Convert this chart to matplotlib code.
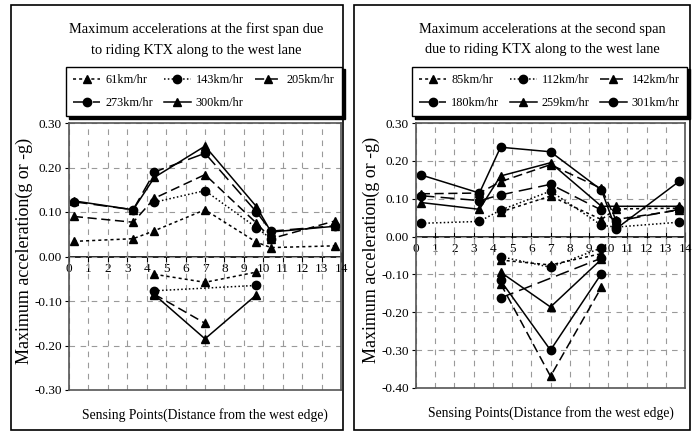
import numpy as np
import matplotlib
matplotlib.use('Agg')
import matplotlib.pyplot as plt
from matplotlib.patches import Rectangle

plt.rcParams['font.family'] = ['Liberation Serif', 'DejaVu Serif']

nan = np.nan

# sensing points (distance from the west edge)
x_pos = [0.25, 3.3, 4.4, 7.0, 9.65, 10.4, 13.7]
x_neg = [4.4, 7.0, 9.65]
x_neg_ends = [4.4, 9.65]
x_neg_first = [4.4, 7.0]

# first span - positive peaks
s1_61 = [0.034, 0.040, 0.058, 0.105, 0.032, 0.020, 0.024]
s1_143 = [nan, nan, 0.122, 0.148, 0.065, 0.040, nan]
s1_205 = [0.090, 0.077, 0.131, 0.184, 0.075, 0.040, 0.080]
s1_273 = [0.123, 0.105, 0.190, 0.232, 0.100, 0.057, 0.069]
s1_300 = [0.125, 0.105, 0.178, 0.248, 0.112, 0.055, 0.068]

# first span - negative peaks
s1_61_neg = [-0.040, -0.058, -0.035]
s1_143_neg = [-0.077, -0.065]
s1_205_neg = [-0.085, -0.150]
s1_300_neg = [-0.086, -0.185, -0.086]

# second span - positive peaks
s2_85 = [nan, nan, 0.065, 0.107, 0.045, 0.073, 0.075]
s2_112 = [0.035, 0.040, 0.070, 0.120, 0.030, 0.025, 0.038]
s2_142 = [0.113, 0.115, 0.145, 0.190, 0.127, 0.045, 0.070]
s2_180 = [0.108, 0.095, 0.110, 0.138, 0.070, 0.040, 0.072]
s2_259 = [0.090, 0.072, 0.160, 0.195, 0.080, 0.080, 0.080]
s2_301 = [0.163, 0.115, 0.236, 0.224, 0.123, 0.020, 0.146]

# second span - negative peaks
s2_85_neg = [-0.062, -0.075, -0.045]
s2_112_neg = [-0.053, -0.081, -0.030]
s2_142_neg = [-0.124, -0.369, -0.134]
s2_180_neg = [-0.162, -0.057]
s2_259_neg = [-0.094, -0.186, -0.060]
s2_301_neg = [-0.116, -0.300, -0.098]

DOT = (0, (2, 2))
FINE = (0, (1, 1.5))
DASH = (0, (6, 3))
LDASH = (0, (9, 4))

span1 = [
    ('61km/hr', s1_61, x_neg, s1_61_neg, DOT, '^'),
    ('143km/hr', s1_143, x_neg_ends, s1_143_neg, FINE, 'o'),
    ('205km/hr', s1_205, x_neg_first, s1_205_neg, DASH, '^'),
    ('273km/hr', s1_273, None, None, LDASH, 'o'),
    ('300km/hr', s1_300, x_neg, s1_300_neg, '-', '^'),
]
span2 = [
    ('85km/hr', s2_85, x_neg, s2_85_neg, DOT, '^'),
    ('112km/hr', s2_112, x_neg, s2_112_neg, FINE, 'o'),
    ('142km/hr', s2_142, x_neg, s2_142_neg, DASH, '^'),
    ('180km/hr', s2_180, x_neg_ends, s2_180_neg, LDASH, 'o'),
    ('259km/hr', s2_259, x_neg, s2_259_neg, '-', '^'),
    ('301km/hr', s2_301, x_neg, s2_301_neg, '-', 'o'),
]

W, H = 694, 432
fig = plt.figure(figsize=(W / 100, H / 100), dpi=100)


def px(x0, y0, x1, y1):
    # pixel box (top-left origin) -> figure fraction rect
    return [x0 / W, 1 - y1 / H, (x1 - x0) / W, (y1 - y0) / H]


def row_order(items, ncol=3):
    # legend fills column by column; reorder so entries read across rows
    rows = [items[i:i + ncol] for i in range(0, len(items), ncol)]
    out = []
    for c in range(ncol):
        for r in rows:
            if c < len(r):
                out.append(r[c])
    return out


def draw_panel(frame, axbox, legbox, title, series, ymin, ymax):
    fig.patches.append(Rectangle(frame[:2], frame[2], frame[3], transform=fig.transFigure,
                                 fill=False, edgecolor='black', linewidth=1.2))
    ax = fig.add_axes(axbox)
    handles = []
    for name, yv, xn, yn, ls, mk in series:
        h, = ax.plot(x_pos, yv, color='black', linestyle=ls, linewidth=1.1,
                     marker=mk, markersize=6, label=name)
        handles.append(h)
        if xn is not None:
            ax.plot(xn, yn, color='black', linestyle=ls, linewidth=1.1,
                    marker=mk, markersize=6)
    ax.set_xlim(0, 14)
    ax.set_ylim(ymin, ymax)
    ax.set_yticks(np.round(np.arange(ymin, ymax + 0.001, 0.1), 2) + 0.0)
    ax.yaxis.set_major_formatter(matplotlib.ticker.FormatStrFormatter('%.2f'))
    ax.set_xticks(range(15))
    ax.tick_params(axis='x', bottom=False, labelbottom=False)
    ax.tick_params(axis='y', direction='out', length=3, labelsize=9.5, pad=2)
    ax.grid(True, color='#9a9a9a', linestyle=(0, (5, 5)), linewidth=0.8)
    ax.set_axisbelow(True)
    for sp in ax.spines.values():
        sp.set_color('#555555')
        sp.set_linewidth(1.2)

    # x axis drawn along the zero line
    sec = ax.secondary_xaxis(0, transform=ax.transData)
    sec.set_xticks(range(15))
    sec.spines['bottom'].set_linewidth(1.2)
    sec.tick_params(direction='inout', length=7, labelsize=9.5, pad=1)

    ax.set_ylabel('Maximum acceleration(g or -g)', fontsize=13)
    ax.yaxis.set_label_coords(-45 / (axbox[2] * W), 0.52)
    ax.yaxis.label.set_va('center')
    ax.set_xlabel('Sensing Points(Distance from the west edge)', fontsize=9.8)
    ax.xaxis.set_label_coords(0.5, -25 / (axbox[3] * H))
    ax.xaxis.label.set_va('center')
    fig.text(axbox[0] + axbox[2] / 2 - 0.012, 1 - 39.5 / H, title, ha='center', va='center',
             fontsize=10.4, linespacing=1.75)
    fig.legend(handles=row_order(handles), loc='center', bbox_to_anchor=legbox, mode='expand',
               ncol=3, fontsize=8.8, frameon=True, fancybox=False,
               edgecolor='black', shadow={'color': 'black', 'alpha': 1},
               handlelength=2.2, handletextpad=0.4, columnspacing=1.0,
               borderpad=0.6, borderaxespad=0, labelspacing=0.9)
    return ax


draw_panel(px(11, 5, 343, 430), px(69, 123, 341, 390), px(66, 65, 342, 118),
           'Maximum accelerations at the first span due\nto riding KTX along to the west lane',
           span1, -0.30, 0.30)
draw_panel(px(354, 5, 690, 430), px(416, 123, 685, 388), px(412, 65, 687, 118),
           'Maximum accelerations at the second span\ndue to riding KTX along to the west lane',
           span2, -0.40, 0.30)

fig.savefig('out.png', dpi=100)
